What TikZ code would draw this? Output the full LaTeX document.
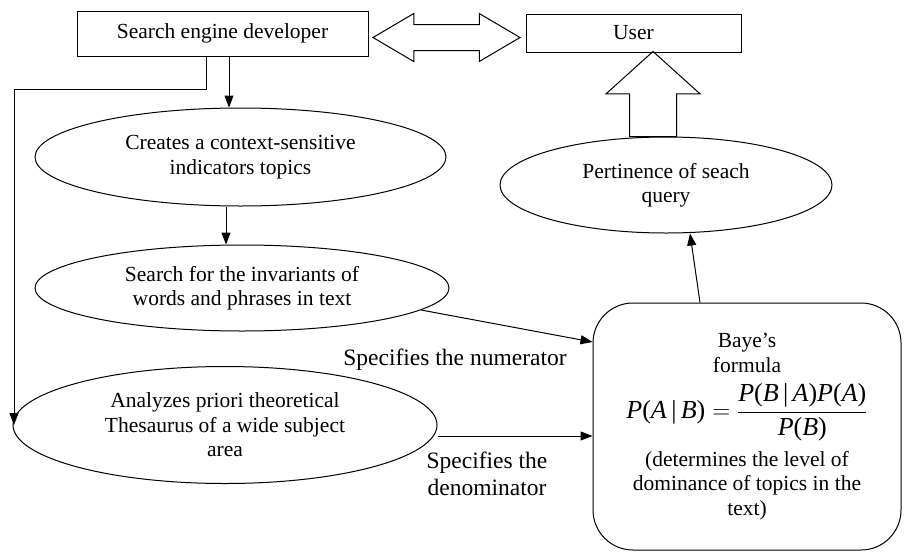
\documentclass[tikz,border=0pt]{standalone}
\usepackage{fontspec}
\setmainfont{Liberation Serif}
\usetikzlibrary{shapes.geometric,shapes.arrows,arrows.meta}

\begin{document}
\begin{tikzpicture}[
    x=1pt, y=-1pt,
    every node/.style={align=center, font=\fontsize{21.5}{24.5}\selectfont},
    box/.style={draw, line width=1pt, inner sep=0pt},
    oval/.style={draw, ellipse, line width=1pt, inner sep=0pt},
    bigbox/.style={draw, line width=1pt, rounded corners=40pt, inner sep=0pt},
    arr/.style={line width=1pt, -{Triangle[length=12pt,width=9pt]}},
    note/.style={font=\fontsize{23.5}{27}\selectfont},
    dblarrow/.style={draw, line width=1pt, double arrow, inner xsep=0pt, inner ysep=12.5pt,
        double arrow head extend=11pt, double arrow tip angle=61, minimum height=147pt},
    uparrow/.style={draw, line width=1pt, single arrow, inner xsep=23pt, inner ysep=0pt,
        single arrow head extend=23.5pt, single arrow tip angle=96, minimum height=85pt,
        shape border rotate=90}
]
\useasboundingbox (0,0) rectangle (904,552);

% boxes
\node[box, minimum width=291pt, minimum height=45pt] (dev) at (222.5,33.5) {Search engine developer};
\node[box, minimum width=215pt, minimum height=38pt] (user) at (633.5,33) {User};
\node[dblarrow] (link) at (446.5,37.5) {};

% ellipses
\node[oval, minimum width=411pt, minimum height=98pt] (creates) at (240.5,157)
    {Creates a context-sensitive\\ indicators topics};
\node[oval, minimum width=414pt, minimum height=86pt] (search) at (242,288)
    {Search for the invariants of\\ words and phrases in text};
\node[oval, minimum width=424pt, minimum height=117pt] (analyze) at (225,425)
    {Analyzes priori theoretical\\ Thesaurus of a wide subject\\ area};
\node[oval, minimum width=332pt, minimum height=96pt] (pert) at (666,185)
    {Pertinence of seach\\ query};
\node[uparrow, anchor=tail] (up) at (653,137) {};

% formula box
\node[bigbox, minimum width=308pt, minimum height=247pt] (bayes) at (747,426.5)
    {Baye’s\\ formula\\[10pt]
     {\fontsize{26}{30}\selectfont
      $\displaystyle\mbox{\textit{P}(\textit{A}\,|\,\textit{B})}=
       \frac{\mbox{\textit{P}(\textit{B}\,|\,\textit{A})\textit{P}(\textit{A})}}{\mbox{\textit{P}(\textit{B})}}$}\\[9pt]
     (determines the level of\\ dominance of topics in the\\ text)};

% connectors
\coordinate (turn) at (14,89);
\draw[arr] ([xshift=6.5pt]dev.south) -- ([xshift=-11.5pt]creates.north);
\draw[arr] ([xshift=-16.5pt]dev.south) |- (turn) -- (turn |- analyze.west);
\draw[arr] ([xshift=-14.5pt]creates.south) -- ([xshift=-16pt]search.north);
\draw[arr] (search.-7) -- ([yshift=84.5pt]bayes.west);
\draw[arr] ([yshift=-11pt]analyze.east) -- ([yshift=-9.5pt]bayes.west);
\draw[arr] ([xshift=-47pt]bayes.north) -- ([xshift=24pt]pert.south);

% labels
\node[note] (num) at (455,360) {Specifies the numerator};
\node[note] (den) at (487,473.5) {Specifies the\\ denominator};
\end{tikzpicture}
\end{document}
